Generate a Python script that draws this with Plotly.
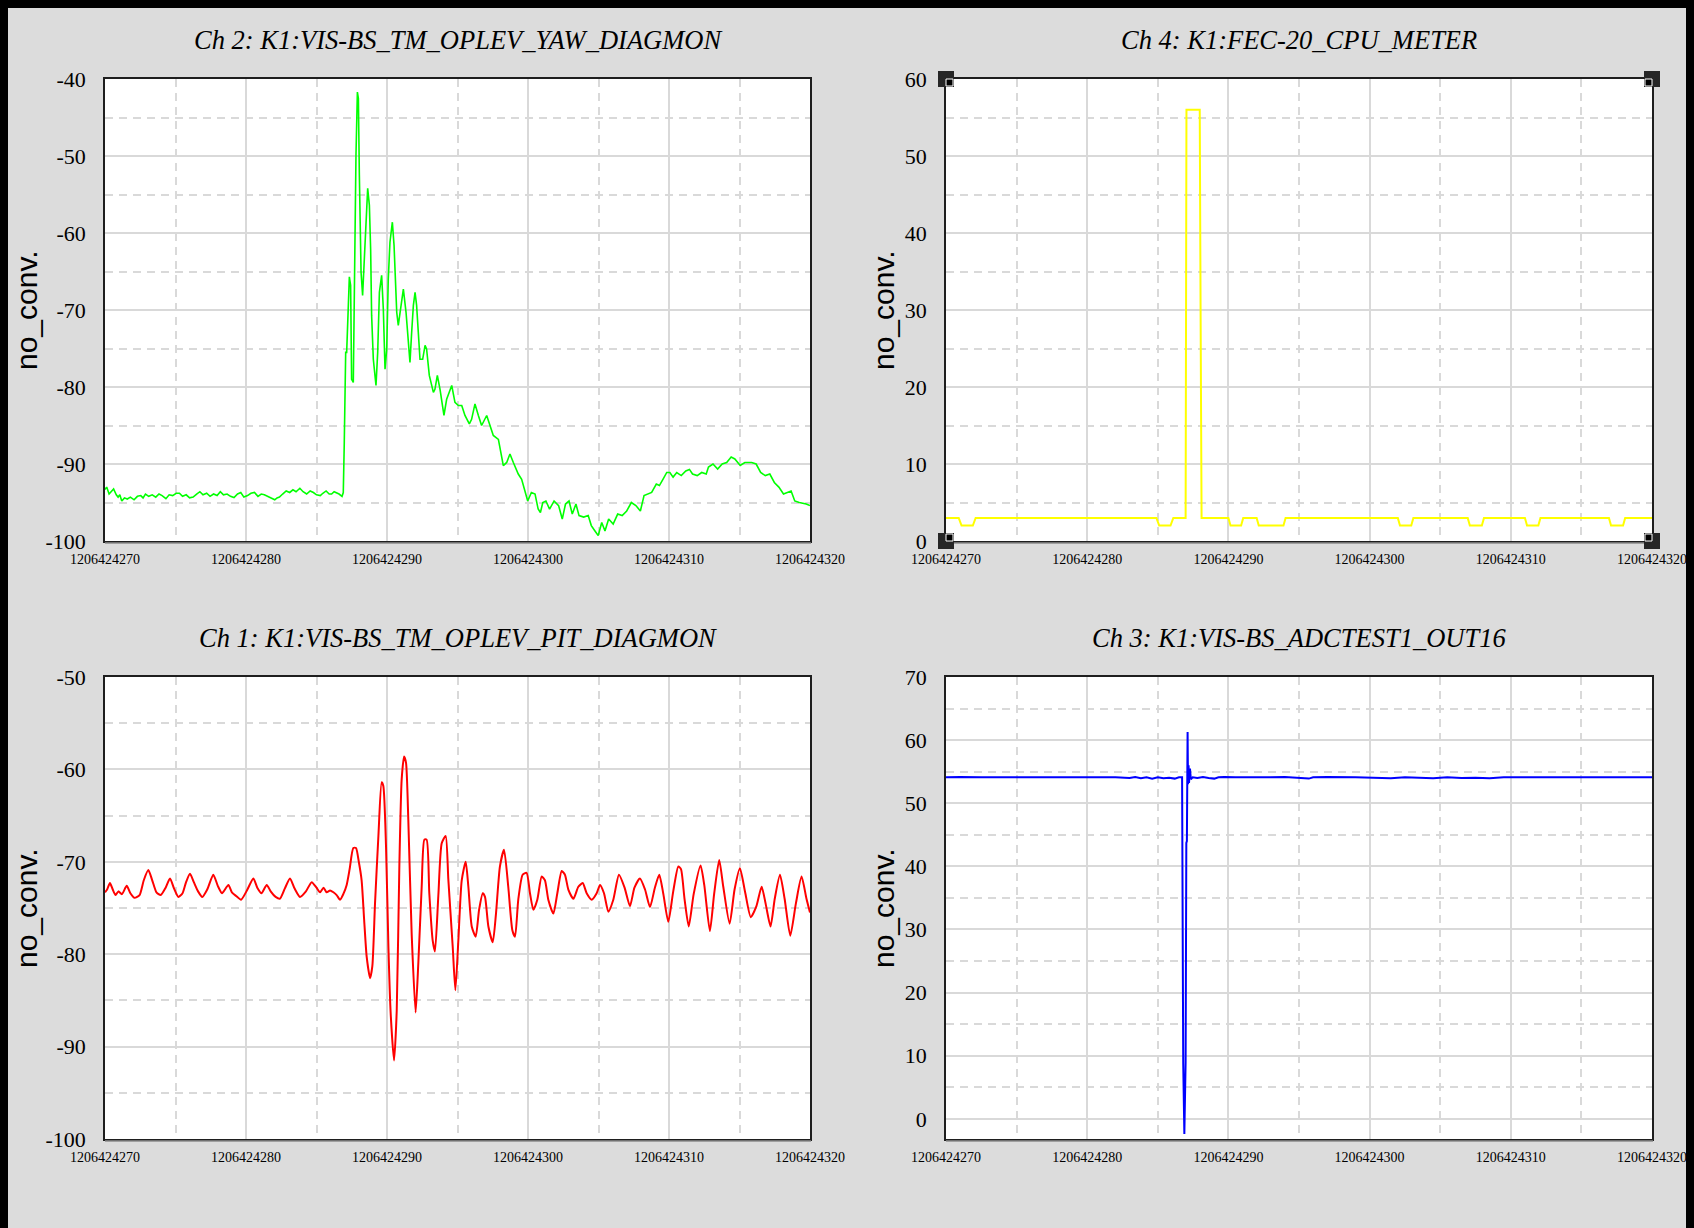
import plotly.graph_objects as go

W, H = 1694, 1228
T_BASE = 1206424000
X_START, X_END = 1206424270, 1206424320

# ---------------- data ----------------
# Ch 2: K1:VIS-BS_TM_OPLEV_YAW_DIAGMON (time offset from T_BASE, value)
ch2_t = [270.0, 270.12, 270.29, 270.45, 270.61, 270.8, 270.93, 271.05, 271.19, 271.38, 271.58, 271.8,
         272.06, 272.3, 272.54, 272.7, 272.87, 273.1, 273.35, 273.6, 273.83, 274.05, 274.32, 274.55,
         274.8, 275.05, 275.28, 275.5, 275.76, 276.0, 276.25, 276.5, 276.73, 276.95, 277.21, 277.45,
         277.7, 277.95, 278.18, 278.4, 278.66, 278.9, 279.15, 279.4, 279.63, 279.85, 280.11, 280.35,
         280.6, 280.85, 281.08, 281.3, 281.56, 281.8, 282.04, 282.2, 282.37, 282.6, 282.85, 283.1,
         283.33, 283.55, 283.82, 284.05, 284.3, 284.55, 284.78, 285.0, 285.27, 285.45, 285.68, 285.9,
         286.07, 286.25, 286.39, 286.6, 286.81, 286.9,
         286.97, 287.07, 287.14, 287.26, 287.33, 287.42, 287.49, 287.61, 287.68, 287.8, 287.9, 287.97,
         288.04, 288.16, 288.27, 288.37, 288.49, 288.63, 288.75, 288.84, 288.91, 289.03, 289.22, 289.34,
         289.46, 289.62, 289.74, 289.86, 289.98, 290.09, 290.21, 290.38, 290.5, 290.69, 290.8, 290.92,
         291.04, 291.16, 291.35, 291.51, 291.63, 291.75, 291.87, 291.99, 292.1, 292.22, 292.34, 292.53,
         292.7, 292.81, 293.0, 293.29, 293.4, 293.57, 293.76, 294.04, 294.23, 294.59, 294.82, 295.06,
         295.3, 295.53, 295.84, 296.0, 296.24, 296.48, 296.71, 297.07, 297.3, 297.54, 297.9, 298.25,
         298.49, 298.72, 298.96, 299.31, 299.55, 299.9, 299.98,
         300.24, 300.5, 300.72, 300.88, 301.05, 301.27, 301.53, 301.85, 302.17, 302.43, 302.66, 302.91,
         303.14, 303.4, 303.62, 303.95, 304.27, 304.49, 304.75, 304.98, 305.23, 305.46, 305.72, 306.04,
         306.36, 306.68, 307.0, 307.33, 307.65, 307.97, 308.23, 308.45, 308.77, 309.1, 309.32, 309.58,
         309.84, 310.06, 310.29, 310.55, 310.87, 311.19, 311.45, 311.67, 312.0, 312.32, 312.64, 312.8,
         313.12, 313.45, 313.77, 314.09, 314.41, 314.67, 315.05, 315.38, 315.86, 316.18, 316.5, 316.83,
         317.15, 317.47, 317.79, 318.12, 318.44, 318.66, 318.92, 319.24, 319.73, 320.0]
ch2_v = [-93.3, -93.0, -93.9, -93.5, -93.25, -94.0, -94.3, -94.0, -94.8, -94.4, -94.55, -94.3,
         -94.65, -94.2, -94.1, -94.4, -93.9, -94.2, -94.0, -94.3, -93.9, -94.1, -94.5, -94.0,
         -94.1, -93.8, -93.8, -94.2, -94.0, -94.4, -94.3, -93.9, -93.6, -94.0, -93.8, -94.2,
         -93.9, -94.1, -93.6, -94.0, -93.9, -94.2, -94.35, -93.9, -93.7, -94.3, -94.1, -93.8,
         -93.7, -94.2, -93.9, -94.0, -94.2, -94.4, -94.65, -94.4, -94.3, -93.9, -93.5, -93.7,
         -93.35, -93.6, -93.15, -93.6, -93.9, -93.5, -93.7, -94.0, -94.1, -93.8, -93.5, -93.9,
         -93.9, -93.6, -93.7, -93.9, -94.2, -93.7,
         -87.2, -75.5, -75.5, -69.9, -65.7, -66.8, -79.0, -79.4, -67.7, -49.9, -41.7, -42.5,
         -52.5, -65.1, -68.1, -64.2, -58.1, -54.2, -56.4, -62.1, -70.7, -76.4, -79.8, -75.5,
         -67.7, -65.5, -69.9, -77.7, -75.1, -66.0, -61.2, -58.6, -61.6, -70.3, -72.0, -70.3,
         -68.6, -67.3, -70.3, -74.2, -76.8, -72.9, -69.4, -67.7, -69.4, -72.9, -76.4, -76.4,
         -74.6, -75.1, -78.5, -80.7, -80.3, -78.5, -80.3, -83.7, -81.6, -79.8, -82.0, -82.4,
         -82.4, -83.7, -84.8, -84.2, -82.2, -83.7, -85.0, -83.7, -85.0, -86.3, -86.8, -90.2,
         -89.8, -88.7, -89.8, -91.3, -92.0, -94.6, -94.8,
         -93.7, -93.9, -95.85, -96.3, -95.0, -94.8, -95.85, -94.8, -95.4, -97.15, -95.2, -94.8,
         -96.5, -95.2, -96.7, -96.9, -96.7, -98.0, -98.7, -99.3, -97.6, -98.7, -97.15, -97.8,
         -96.5, -96.7, -96.1, -95.0, -95.4, -96.1, -94.1, -93.9, -93.7, -92.6, -92.8, -91.95,
         -91.1, -91.1, -91.7, -91.1, -91.5, -90.9, -90.7, -91.3, -91.5, -91.1, -91.3, -90.4,
         -90.0, -90.65, -90.0, -89.8, -89.1, -89.35, -90.2, -89.8, -89.8, -90.0, -91.1, -91.5,
         -91.3, -92.4, -93.0, -93.9, -93.7, -93.5, -94.8, -95.0, -95.2, -95.4]

# Ch 4: K1:FEC-20_CPU_METER
ch4_t = [270.0, 270.9, 271.1, 271.9, 272.1, 284.9, 285.1, 285.9, 286.1, 286.97, 287.03, 287.97,
         288.03, 288.1, 290.0, 290.15, 290.9, 291.05, 292.0, 292.15, 293.9, 294.05, 302.0, 302.15,
         302.95, 303.1, 306.95, 307.1, 307.95, 308.1, 311.0, 311.15, 311.95, 312.1, 316.95, 317.1,
         317.95, 318.1, 320.0]
ch4_v = [3, 3, 2, 2, 3, 3, 2, 2, 3, 3, 56, 56,
         30, 3, 3, 2, 2, 3, 3, 2, 2, 3, 3, 2,
         2, 3, 3, 2, 2, 3, 3, 2, 2, 3, 3, 2,
         2, 3, 3]

# Ch 1: K1:VIS-BS_TM_OPLEV_PIT_DIAGMON
ch1_t = [270.0, 270.15, 270.35, 270.55, 270.75, 270.95, 271.2, 271.54, 271.8, 272.1, 272.45, 272.75,
         273.07, 273.35, 273.65, 273.95, 274.3, 274.61, 274.9, 275.2, 275.5, 275.75, 276.03, 276.3,
         276.6, 276.9, 277.25, 277.68, 278.0, 278.3, 278.75, 279.0, 279.3, 279.65, 280.1, 280.52,
         280.8, 281.1, 281.47, 281.75, 282.1, 282.4, 282.75, 283.12, 283.45, 283.83, 284.25, 284.66,
         285.0, 285.25, 285.5, 285.72, 285.96, 286.2, 286.43, 286.67, 286.9, 287.14, 287.35, 287.61,
         287.8, 288.0, 288.2, 288.38, 288.56, 288.8, 288.96, 289.15, 289.39, 289.62, 289.74, 289.93,
         290.1, 290.26, 290.5, 290.69, 290.88, 291.04, 291.21, 291.35, 291.51, 291.75, 292.03, 292.22,
         292.46, 292.65, 292.81, 293.0, 293.24, 293.4, 293.64, 293.88, 294.16, 294.35, 294.66, 294.85,
         295.06, 295.3, 295.58, 295.77, 296.01, 296.29, 296.53, 296.79, 296.95, 297.19, 297.5, 297.73,
         298.01, 298.3, 298.6, 298.89, 299.08, 299.31, 299.62, 299.9, 300.14, 300.38, 300.66, 300.97,
         301.2, 301.44, 301.8, 302.08, 302.39, 302.62, 302.86, 303.22, 303.57, 303.88, 304.16, 304.52,
         304.87, 305.11, 305.39, 305.7, 306.05, 306.45, 306.85, 307.23, 307.55, 307.94, 308.3, 308.65,
         309.0, 309.31, 309.6, 309.95, 310.3, 310.66, 310.85, 311.1, 311.4, 311.75, 312.24, 312.5,
         312.9, 313.2, 313.56, 313.85, 314.3, 314.65, 315.03, 315.4, 315.8, 316.2, 316.57, 316.85,
         317.2, 317.5, 317.87, 318.2, 318.6, 319.0, 319.4, 319.75, 320.0]
ch1_v = [-73.3, -73.0, -72.3, -73.0, -73.6, -73.2, -73.5, -72.6, -73.4, -73.9, -73.6, -72.0,
         -70.9, -72.0, -73.3, -73.6, -72.8, -71.8, -72.9, -73.8, -73.4, -72.2, -71.3, -72.2,
         -73.2, -73.8, -73.0, -71.4, -72.6, -73.4, -72.5, -73.3, -73.7, -74.1, -73.0, -71.8,
         -72.8, -73.4, -72.5, -73.2, -73.8, -74.0, -72.9, -71.8, -72.9, -73.8, -73.2, -72.2,
         -72.8, -73.3, -72.8, -73.3, -73.1, -73.3, -73.6, -74.1, -73.5, -72.5, -70.8, -68.5,
         -68.5, -70.0, -72.0, -76.3, -80.3, -82.6, -81.3, -74.5, -67.2, -61.4, -61.8, -68.3,
         -79.2, -86.4, -91.5, -86.1, -70.1, -61.1, -58.6, -59.3, -65.4, -77.8, -86.3, -81.0,
         -72.7, -67.6, -67.6, -73.4, -78.5, -79.7, -73.7, -68.0, -67.2, -71.9, -79.2, -83.9,
         -78.5, -72.0, -70.0, -72.7, -77.0, -78.1, -75.2, -73.4, -73.8, -77.0, -78.7, -75.6,
         -70.5, -68.7, -72.7, -77.4, -78.1, -74.1, -71.4, -71.2, -73.4, -75.2, -74.1, -71.6,
         -72.0, -74.1, -75.6, -73.4, -71.0, -71.4, -73.0, -74.0, -72.7, -72.3, -73.4, -74.1,
         -73.4, -72.5, -73.4, -75.4, -74.1, -71.4, -72.8, -74.8, -72.8, -71.8, -73.0, -74.9,
         -72.8, -71.4, -73.5, -76.5, -73.2, -70.5, -70.8, -74.0, -77.0, -73.5, -70.4, -72.5,
         -77.5, -73.5, -69.8, -72.7, -76.7, -73.0, -70.7, -73.3, -76.0, -74.8, -72.7, -74.5,
         -77.0, -74.0, -71.4, -74.0, -78.0, -74.5, -71.6, -74.0, -75.5]

# Ch 3: K1:VIS-BS_ADCTEST1_OUT16
ch3_t = [270.0, 271.0, 272.5, 274.0, 276.0, 278.0, 280.0, 282.0, 283.0, 283.4, 283.8, 284.2,
         284.6, 285.0, 285.4, 285.8, 286.2, 286.5, 286.72, 286.76, 286.8, 286.88, 286.93, 286.97,
         287.02, 287.06, 287.11, 287.14, 287.18, 287.21, 287.28, 287.34, 287.47, 287.8, 288.2, 288.6,
         289.0, 289.3, 289.7, 290.5, 291.5, 292.5, 294.0, 295.4, 295.7, 296.0, 297.0, 299.0,
         300.5, 301.5, 302.5, 303.5, 304.5, 305.5, 306.5, 307.5, 308.5, 309.5, 311.0, 313.0,
         315.0, 317.0, 320.0]
ch3_v = [54.1, 54.15, 54.1, 54.15, 54.1, 54.1, 54.15, 54.1, 54.0, 54.15, 53.95, 54.1,
         53.9, 54.1, 53.95, 54.05, 53.9, 54.1, 54.1, 9.2, 8.8, -2.4, 2.1, 9.0,
         43.7, 44.0, 61.3, 53.0, 56.0, 53.2, 55.5, 53.8, 54.1, 54.0, 54.15, 54.0,
         53.9, 54.1, 54.15, 54.1, 54.15, 54.1, 54.15, 54.0, 53.9, 54.1, 54.15, 54.1,
         54.05, 53.95, 54.1, 54.0, 53.95, 54.1, 54.0, 54.05, 53.95, 54.1, 54.1, 54.15,
         54.1, 54.1, 54.1]

titles = ["Ch 2: K1:VIS-BS_TM_OPLEV_YAW_DIAGMON", "Ch 4: K1:FEC-20_CPU_METER",
          "Ch 1: K1:VIS-BS_TM_OPLEV_PIT_DIAGMON", "Ch 3: K1:VIS-BS_ADCTEST1_OUT16"]
y_title = "no_conv."
y_ranges = [[-100, -40], [0, 60], [-100, -50], [-3.2, 70]]
y_ticks = [[-100, -90, -80, -70, -60, -50, -40], [0, 10, 20, 30, 40, 50, 60],
           [-100, -90, -80, -70, -60, -50], [0, 10, 20, 30, 40, 50, 60, 70]]
x_ticks = [1206424270, 1206424280, 1206424290, 1206424300, 1206424310, 1206424320]

# ---------------- layout helpers ----------------
def px(x):
    return x / W

def py(y):
    return 1 - y / H

# plot frames in figure pixels: (left, top, right, bottom)
frames = [(97, 71, 802, 533), (938, 71, 1644, 533), (97, 669, 802, 1131), (938, 669, 1644, 1131)]

GRID = "#d9d9d9"
FRAME = "#1e1e1e"

fig = go.Figure()
series = [(ch2_t, ch2_v, "#00ff00", 1.6, "linear"),
          (ch4_t, ch4_v, "#ffff00", 2.0, "linear"),
          (ch1_t, ch1_v, "#ff0000", 2.0, "spline"),
          (ch3_t, ch3_v, "#0000ff", 2.0, "linear")]
for i, (t, v, c, w, shape) in enumerate(series):
    sfx = "" if i == 0 else str(i + 1)
    line = dict(color=c, width=w, shape=shape)
    if shape == "spline":
        line["smoothing"] = 0.6
    fig.add_trace(go.Scatter(x=[T_BASE + s for s in t], y=v, mode="lines", line=line,
                             xaxis="x" + sfx, yaxis="y" + sfx, showlegend=False,
                             hoverinfo="skip"))

layout = dict(width=W, height=H, margin=dict(l=0, r=0, t=0, b=0, pad=0, autoexpand=False),
              paper_bgcolor="#dcdcdc", plot_bgcolor="white", showlegend=False)

for i, (l, t, r, b) in enumerate(frames):
    sfx = "" if i == 0 else str(i + 1)
    layout["xaxis" + sfx] = dict(
        domain=[px(l), px(r)], anchor="y" + sfx, range=[X_START, X_END], automargin=False,
        tickmode="array", tickvals=x_ticks, ticktext=[str(v) for v in x_ticks],
        ticks="", ticklabelstandoff=4,
        showgrid=True, gridcolor=GRID, gridwidth=1.5, zeroline=False,
        minor=dict(tick0=X_START, dtick=5, showgrid=True, gridcolor=GRID, gridwidth=1.5,
                   griddash="8px,6px", ticks=""),
        showline=True, mirror=True, linecolor=FRAME, linewidth=1.5,
        tickfont=dict(family="Liberation Serif", size=14, color="black"))
    layout["yaxis" + sfx] = dict(
        domain=[py(b), py(t)], anchor="x" + sfx, range=y_ranges[i], automargin=False,
        tickmode="array", tickvals=y_ticks[i], ticktext=[str(v) for v in y_ticks[i]],
        ticks="", ticklabelstandoff=13,
        showgrid=True, gridcolor=GRID, gridwidth=1.5, zeroline=False,
        minor=dict(tick0=0, dtick=5, showgrid=True, gridcolor=GRID, gridwidth=1.5,
                   griddash="8px,6px", ticks=""),
        showline=True, mirror=True, linecolor=FRAME, linewidth=1.5,
        tickfont=dict(family="Liberation Serif", size=22, color="black"))

annotations = []
title_y = [32, 32, 630, 630]
ytitle_x = [18, 875, 18, 875]
for i, (l, t, r, b) in enumerate(frames):
    annotations.append(dict(text=titles[i], xref="paper", yref="paper",
                            x=px((l + r) / 2), y=py(title_y[i]), xanchor="center", yanchor="middle",
                            showarrow=False,
                            font=dict(family="Liberation Serif", size=26.5, style="italic", color="black")))
    annotations.append(dict(text=y_title, xref="paper", yref="paper",
                            x=px(ytitle_x[i]), y=py((t + b) / 2), xanchor="center", yanchor="middle",
                            textangle=-90, showarrow=False, borderpad=0,
                            font=dict(family="Liberation Sans", size=30, color="black")))
layout["annotations"] = annotations

shapes = []
# bottom shadow under each frame
for (l, t, r, b) in frames:
    shapes.append(dict(type="line", xref="paper", yref="paper", x0=px(l), x1=px(r + 1),
                       y0=py(b + 2), y1=py(b + 2), line=dict(color="#8c8c8c", width=1.5)))
# selection corner markers on Ch 4
l, t, r, b = frames[1]
for cx, cy, sx, sy in [(l, t, 1, 1), (r, t, -1, 1), (l, b, 1, -1), (r, b, -1, -1)]:
    shapes.append(dict(type="rect", xref="paper", yref="paper",
                       x0=px(cx - 8), x1=px(cx + 8), y0=py(cy + 8), y1=py(cy - 8),
                       fillcolor="#262626", line=dict(width=0)))
    shapes.append(dict(type="rect", xref="paper", yref="paper",
                       x0=px(cx), x1=px(cx + 7 * sx), y0=py(cy), y1=py(cy + 7 * sy),
                       fillcolor="black", line=dict(color="white", width=1)))
layout["shapes"] = shapes

fig.update_layout(**layout)
# the page background around the figure is black (window border in the original screenshot)
fig.write_html("out.html", post_script="document.body.style.backgroundColor='black';")
